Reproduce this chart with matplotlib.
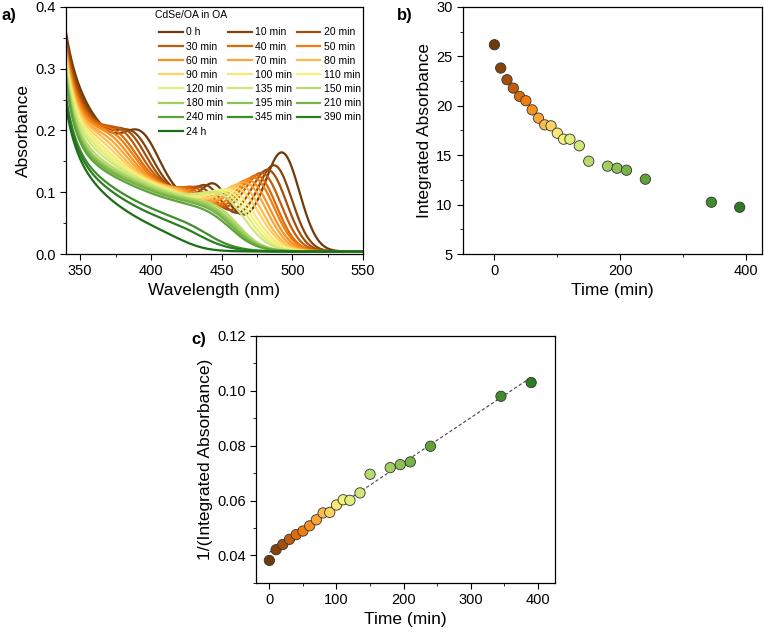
import numpy as np
import matplotlib
matplotlib.use("Agg")
import matplotlib.pyplot as plt
from matplotlib.ticker import MultipleLocator, FormatStrFormatter

plt.rcParams['font.family'] = ['Liberation Sans', 'DejaVu Sans']

# labels / colours for each spectrum
labels = ['0 h', '10 min', '20 min', '30 min', '40 min', '50 min', '60 min', '70 min',
          '80 min', '90 min', '100 min', '110 min', '120 min', '135 min', '150 min',
          '180 min', '195 min', '210 min', '240 min', '345 min', '390 min', '24 h']
colors = ['#6e3a0c', '#86440b', '#a24f0c', '#c05c0c', '#de6a0a', '#f27c0c', '#f89020',
          '#fba636', '#fcbb4c', '#fdd261', '#fbe874', '#f3f37c', '#e2ef7c', '#d0e678',
          '#b8da6c', '#a2cf60', '#8cc153', '#77b246', '#5fa23a', '#3f8c2c', '#2c7c22',
          '#1c6e16']

# spectral features (nm / absorbance)
peak_nm = [494, 489, 485, 481, 478, 476, 473, 471, 468, 466, 463, 460, 458, 455, 452,
           450, 448, 447, 445, 440, 438, 425]
peak_h = [0.138, 0.114, 0.104, 0.096, 0.09, 0.085, 0.079, 0.073, 0.067, 0.06, 0.054,
          0.05, 0.046, 0.041, 0.014, 0.012, 0.011, 0.01, 0.009, 0.006, 0.005, 0.0]
peak_w = [12, 12, 12.5, 13, 13, 13.5, 14, 14, 14.5, 15, 15.5, 16, 16, 16.5, 17, 17.5,
          18, 18, 18.5, 19, 19, 20]
edge_nm = [498, 493, 489, 485, 482, 480, 477, 475, 472, 470, 467, 465, 463, 461, 462,
           461, 460, 459, 458, 442, 438, 428]
x2_h = [0.045, 0.036, 0.028, 0.022, 0.017, 0.013, 0.01, 0.008, 0.006, 0.004, 0.002, 0,
        0, 0, 0, 0, 0, 0, 0, 0, 0, 0]
x3_h = [0.06, 0.05, 0.045, 0.04, 0.034, 0.03, 0.026, 0.022, 0.018, 0.014, 0.01, 0.008,
        0.006, 0.004, 0.002, 0, 0, 0, 0, 0, 0, 0]
c360 = [0.215, 0.21, 0.205, 0.2, 0.195, 0.19, 0.185, 0.18, 0.176, 0.172, 0.168, 0.165,
        0.162, 0.158, 0.152, 0.148, 0.145, 0.142, 0.138, 0.125, 0.118, 0.108]
c430 = [0.08, 0.081, 0.082, 0.083, 0.083, 0.083, 0.083, 0.083, 0.083, 0.083, 0.083,
        0.083, 0.082, 0.082, 0.081, 0.079, 0.077, 0.075, 0.071, 0.046, 0.038, 0.024]
uv340 = [0.355, 0.345, 0.34, 0.335, 0.33, 0.33, 0.325, 0.32, 0.32, 0.315, 0.31, 0.31,
         0.305, 0.30, 0.295, 0.29, 0.285, 0.28, 0.275, 0.25, 0.245, 0.234]

# panel b / c
time_min = [0, 10, 20, 30, 40, 50, 60, 70, 80, 90, 100, 110, 120, 135, 150, 180, 195,
            210, 240, 345, 390]
int_abs = [26.18, 23.82, 22.64, 21.79, 20.95, 20.51, 19.59, 18.75, 18.07, 17.97, 17.23,
           16.62, 16.62, 15.95, 14.39, 13.89, 13.68, 13.48, 12.57, 10.24, 9.73]
inv_abs = [0.0382, 0.0421, 0.0440, 0.0459, 0.0476, 0.0489, 0.0508, 0.0530, 0.0555,
           0.0557, 0.0584, 0.0603, 0.0601, 0.0628, 0.0696, 0.0720, 0.0731, 0.0741,
           0.0798, 0.0980, 0.1030]


def spectrum(wl, i):
    tau = 70.0 / np.log(c360[i] / c430[i])
    cont = c360[i] * np.exp(-(wl - 360) / tau)
    cont = cont / (1 + np.exp((wl - edge_nm[i]) / (peak_w[i] * 0.5)))
    p1 = peak_h[i] * np.exp(-0.5 * ((wl - peak_nm[i]) / peak_w[i]) ** 2)
    p2 = x2_h[i] * np.exp(-0.5 * ((wl - peak_nm[i] + 49) / 9) ** 2)
    p3 = x3_h[i] * np.exp(-0.5 * ((wl - peak_nm[i] + 100) / 12) ** 2)
    base = cont + p1 + p2 + p3
    uv = (uv340[i] - base[0]) * np.exp(-(wl - wl[0]) / 7)
    return base + uv + 0.004


def style(ax):
    ax.tick_params(which='both', direction='out', labelsize=10.5, top=False, right=False)
    ax.tick_params(which='major', length=4)
    ax.tick_params(which='minor', length=2.5)
    for s in ax.spines.values():
        s.set_linewidth(0.9)


fig = plt.figure(figsize=(7.64, 6.35), dpi=100)

# a) spectra
ax = fig.add_axes([0.0864, 0.600, 0.3887, 0.389])
wl = np.linspace(340, 550, 600)
lines = []
for i in range(len(labels)):
    ln, = ax.plot(wl, spectrum(wl, i), color=colors[i], lw=1.6, label=labels[i])
    lines.append(ln)
ax.set_xlim(340, 550)
ax.set_ylim(0, 0.4)
ax.xaxis.set_major_locator(MultipleLocator(50))
ax.xaxis.set_minor_locator(MultipleLocator(25))
ax.yaxis.set_major_locator(MultipleLocator(0.1))
ax.yaxis.set_minor_locator(MultipleLocator(0.05))
ax.yaxis.set_major_formatter(FormatStrFormatter('%.1f'))
ax.set_xlabel('Wavelength (nm)', fontsize=12.5, labelpad=3)
ax.set_ylabel('Absorbance', fontsize=12.5, labelpad=3)
style(ax)
order = [j for c in range(3) for j in range(c, len(lines), 3)]
ax.legend([lines[j] for j in order], [labels[j] for j in order], ncol=3,
          fontsize=7.5, frameon=False, loc='upper right',
          bbox_to_anchor=(1.024, 0.955), handlelength=2.3,
          handletextpad=0.3, columnspacing=0.45, labelspacing=0.4)
ax.text(0.30, 0.966, 'CdSe/OA in OA', transform=ax.transAxes, fontsize=7.5,
        ha='left', va='center')
fig.text(0.002, 0.975, 'a)', fontsize=12, fontweight='bold', va='center')

# b) integrated absorbance
cols21 = colors[:len(time_min)]
bx = fig.add_axes([0.606, 0.600, 0.391, 0.389])
bx.scatter(time_min, int_abs, s=55, c=cols21, edgecolors='#333333', linewidths=0.6,
           zorder=3)
bx.set_xlim(-50, 425)
bx.set_ylim(5, 30)
bx.xaxis.set_major_locator(MultipleLocator(200))
bx.xaxis.set_minor_locator(MultipleLocator(100))
bx.yaxis.set_major_locator(MultipleLocator(5))
bx.yaxis.set_minor_locator(MultipleLocator(2.5))
bx.set_xlabel('Time (min)', fontsize=12.5, labelpad=3)
bx.set_ylabel('Integrated Absorbance', fontsize=12.5, labelpad=3)
style(bx)
fig.text(0.519, 0.975, 'b)', fontsize=12, fontweight='bold', va='center')

# c) 1/integrated absorbance
cx = fig.add_axes([0.335, 0.082, 0.391, 0.389])
slope, icpt = np.polyfit(time_min, inv_abs, 1)
fx = np.array([time_min[0], time_min[-1]])
cx.plot(fx, slope * fx + icpt, ls=(0, (3, 2)), color='#444444', lw=0.8, zorder=2)
cx.scatter(time_min, inv_abs, s=55, c=cols21, edgecolors='#333333', linewidths=0.6,
           zorder=3)
cx.set_xlim(-20, 425)
cx.set_ylim(0.03, 0.12)
cx.xaxis.set_major_locator(MultipleLocator(100))
cx.xaxis.set_minor_locator(MultipleLocator(50))
cx.yaxis.set_major_locator(MultipleLocator(0.02))
cx.yaxis.set_minor_locator(MultipleLocator(0.01))
cx.yaxis.set_major_formatter(FormatStrFormatter('%.2f'))
cx.set_xlabel('Time (min)', fontsize=12.5, labelpad=3)
cx.set_ylabel('1/(Integrated Absorbance)', fontsize=12.5, labelpad=3)
style(cx)
fig.text(0.251, 0.465, 'c)', fontsize=12, fontweight='bold', va='center')

fig.savefig('out.png', dpi=100)
